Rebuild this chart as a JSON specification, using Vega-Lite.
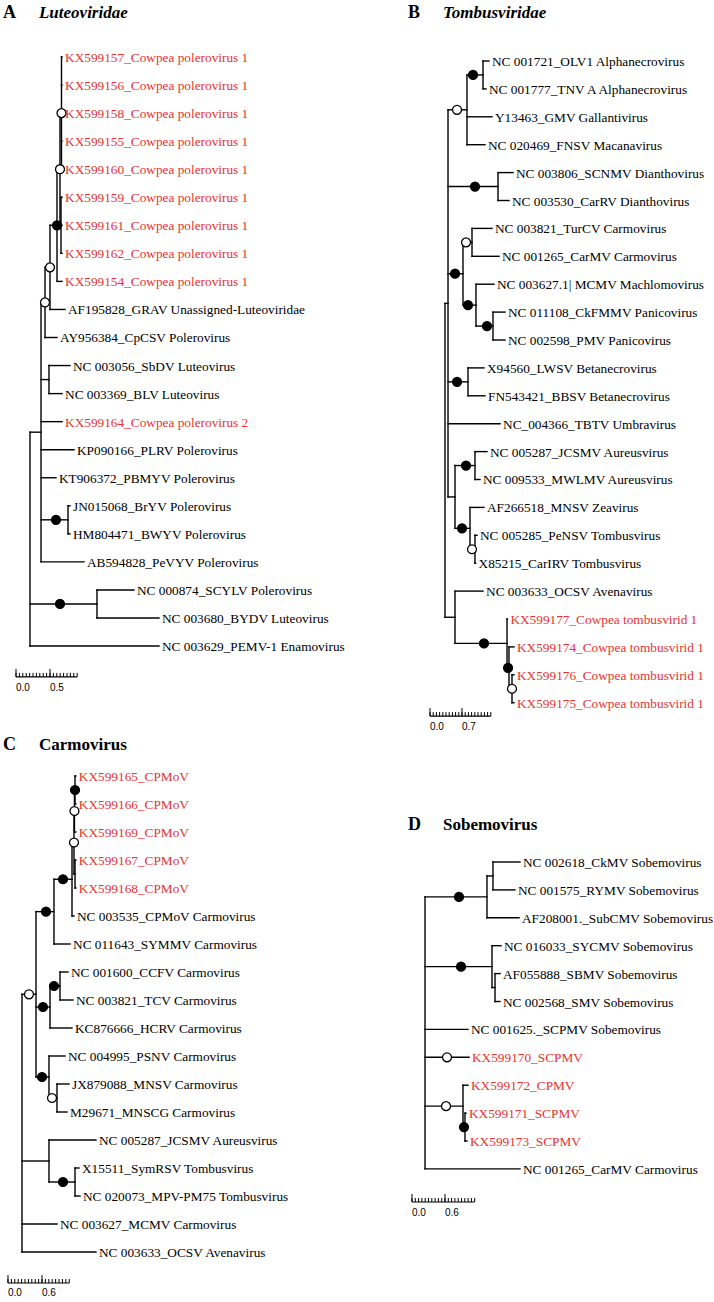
{
"$schema": "https://vega.github.io/schema/vega-lite/v6.json",
"padding": 0,
"bounds": "flush",
"spacing": 0,
"columns": 2,
"config": {"view": {"stroke": null}, "axis": {"disable": true}},
"datasets": {
"A": [
{"id":"r","x":0,"y":17.1875},
{"id":"C1","parent":"r","px":0,"x":0.162,"y":13.375},
{"id":"SB","parent":"r","px":0,"x":0.985,"y":19.5,"bs":"high","dotx":0.441},
{"id":"N3","parent":"C1","px":0.162,"x":0.221,"y":8.75,"bs":"mod","dotx":0.221},
{"id":"SbBLV","parent":"C1","px":0.162,"x":0.279,"y":11.5},
{"id":"JNHM","parent":"C1","px":0.162,"x":0.559,"y":16.5,"bs":"high","dotx":0.382},
{"id":"N2","parent":"N3","px":0.221,"x":0.294,"y":7.5,"bs":"mod","dotx":0.294},
{"id":"N1","parent":"N2","px":0.294,"x":0.397,"y":6,"bs":"high","dotx":0.397},
{"id":"Ga","parent":"N1","px":0.397,"x":0.441,"y":4,"bs":"mod","dotx":0.441},
{"id":"Gb","parent":"Ga","px":0.441,"x":0.463,"y":2,"bs":"mod","dotx":0.463},
{"id":"Gc","parent":"Ga","px":0.441,"x":0.456,"y":6},
{"parent":"Gb","px":0.463,"x":0.471,"y":0,"name":"KX599157_Cowpea polerovirus 1","grp":"new"},
{"parent":"Gb","px":0.463,"x":0.471,"y":1,"name":"KX599156_Cowpea polerovirus 1","grp":"new"},
{"parent":"Gb","px":0.463,"x":0.471,"y":2,"name":"KX599158_Cowpea polerovirus 1","grp":"new"},
{"parent":"Gb","px":0.463,"x":0.471,"y":3,"name":"KX599155_Cowpea polerovirus 1","grp":"new"},
{"parent":"Gb","px":0.463,"x":0.471,"y":4,"name":"KX599160_Cowpea polerovirus 1","grp":"new"},
{"parent":"Gc","px":0.456,"x":0.471,"y":5,"name":"KX599159_Cowpea polerovirus 1","grp":"new"},
{"parent":"Gc","px":0.456,"x":0.471,"y":6,"name":"KX599161_Cowpea polerovirus 1","grp":"new"},
{"parent":"Gc","px":0.456,"x":0.471,"y":7,"name":"KX599162_Cowpea polerovirus 1","grp":"new"},
{"parent":"N1","px":0.397,"x":0.471,"y":8,"name":"KX599154_Cowpea polerovirus 1","grp":"new"},
{"parent":"N2","px":0.294,"x":0.515,"y":9,"name":"AF195828_GRAV Unassigned-Luteoviridae"},
{"parent":"N3","px":0.221,"x":0.397,"y":10,"name":"AY956384_CpCSV Polerovirus"},
{"parent":"SbBLV","px":0.279,"x":0.588,"y":11,"name":"NC 003056_SbDV Luteovirus"},
{"parent":"SbBLV","px":0.279,"x":0.471,"y":12,"name":"NC 003369_BLV Luteovirus"},
{"parent":"C1","px":0.162,"x":0.471,"y":13,"name":"KX599164_Cowpea polerovirus 2","grp":"new"},
{"parent":"C1","px":0.162,"x":0.647,"y":14,"name":"KP090166_PLRV Polerovirus"},
{"parent":"C1","px":0.162,"x":0.382,"y":15,"name":"KT906372_PBMYV Polerovirus"},
{"parent":"JNHM","px":0.559,"x":0.588,"y":16,"name":"JN015068_BrYV Polerovirus"},
{"parent":"JNHM","px":0.559,"x":0.588,"y":17,"name":"HM804471_BWYV Polerovirus"},
{"parent":"C1","px":0.162,"x":0.794,"y":18,"name":"AB594828_PeVYV Polerovirus"},
{"parent":"SB","px":0.985,"x":1.529,"y":19,"name":"NC 000874_SCYLV Polerovirus"},
{"parent":"SB","px":0.985,"x":1.897,"y":20,"name":"NC 003680_BYDV Luteovirus"},
{"parent":"r","px":0,"x":1.897,"y":21,"name":"NC 003629_PEMV-1 Enamovirus"}
],
"B": [
{"id":"r","x":0,"y":14.3125},
{"id":"X","parent":"r","px":0,"x":0.066,"y":8.6875},
{"id":"Q","parent":"r","px":0,"x":0.219,"y":19.9375},
{"id":"AL","parent":"X","px":0.066,"x":0.481,"y":1.75,"bs":"mod","dotx":0.263},
{"id":"DI","parent":"X","px":0.066,"x":1.16,"y":4.5,"bs":"high","dotx":0.656},
{"id":"CG","parent":"X","px":0.066,"x":0.394,"y":7.625,"bs":"high","dotx":0.219},
{"id":"BE","parent":"X","px":0.066,"x":0.503,"y":11.5,"bs":"high","dotx":0.263},
{"id":"Y","parent":"X","px":0.066,"x":0.219,"y":15.625},
{"id":"OT","parent":"AL","px":0.481,"x":0.832,"y":0.5,"bs":"high","dotx":0.613},
{"id":"T","parent":"CG","px":0.394,"x":0.591,"y":6.5,"bs":"mod","dotx":0.46},
{"id":"M","parent":"CG","px":0.394,"x":0.678,"y":8.75,"bs":"high","dotx":0.503},
{"id":"P","parent":"M","px":0.678,"x":1.05,"y":9.5,"bs":"high","dotx":0.919},
{"id":"AU","parent":"Y","px":0.219,"x":0.656,"y":14.5,"bs":"high","dotx":0.46},
{"id":"Z","parent":"Y","px":0.219,"x":0.547,"y":16.75,"bs":"high","dotx":0.372},
{"id":"PC","parent":"Z","px":0.547,"x":0.656,"y":17.5,"bs":"mod","dotx":0.591},
{"id":"K","parent":"Q","px":0.219,"x":1.357,"y":20.875,"bs":"high","dotx":0.853},
{"id":"K2","parent":"K","px":1.357,"x":1.4,"y":21.75,"bs":"high","dotx":1.379},
{"id":"K3","parent":"K2","px":1.4,"x":1.466,"y":22.5,"bs":"mod","dotx":1.466},
{"parent":"OT","px":0.832,"x":0.963,"y":0,"name":"NC 001721_OLV1 Alphanecrovirus"},
{"parent":"OT","px":0.832,"x":0.897,"y":1,"name":"NC 001777_TNV A Alphanecrovirus"},
{"parent":"AL","px":0.481,"x":1.028,"y":2,"name":"Y13463_GMV Gallantivirus"},
{"parent":"AL","px":0.481,"x":0.875,"y":3,"name":"NC 020469_FNSV Macanavirus"},
{"parent":"DI","px":1.16,"x":1.488,"y":4,"name":"NC 003806_SCNMV Dianthovirus"},
{"parent":"DI","px":1.16,"x":1.4,"y":5,"name":"NC 003530_CarRV Dianthovirus"},
{"parent":"T","px":0.591,"x":1.028,"y":6,"name":"NC 003821_TurCV Carmovirus"},
{"parent":"T","px":0.591,"x":1.182,"y":7,"name":"NC 001265_CarMV Carmovirus"},
{"parent":"M","px":0.678,"x":1.072,"y":8,"name":"NC 003627.1| MCMV Machlomovirus"},
{"parent":"P","px":1.05,"x":1.313,"y":9,"name":"NC 011108_CkFMMV Panicovirus"},
{"parent":"P","px":1.05,"x":1.313,"y":10,"name":"NC 002598_PMV Panicovirus"},
{"parent":"BE","px":0.503,"x":0.853,"y":11,"name":"X94560_LWSV Betanecrovirus"},
{"parent":"BE","px":0.503,"x":0.875,"y":12,"name":"FN543421_BBSV Betanecrovirus"},
{"parent":"X","px":0.066,"x":1.204,"y":13,"name":"NC_004366_TBTV Umbravirus"},
{"parent":"AU","px":0.656,"x":0.919,"y":14,"name":"NC 005287_JCSMV Aureusvirus"},
{"parent":"AU","px":0.656,"x":0.766,"y":15,"name":"NC 009533_MWLMV Aureusvirus"},
{"parent":"Z","px":0.547,"x":0.853,"y":16,"name":"AF266518_MNSV Zeavirus"},
{"parent":"PC","px":0.656,"x":0.7,"y":17,"name":"NC 005285_PeNSV Tombusvirus"},
{"parent":"PC","px":0.656,"x":0.67,"y":18,"name":"X85215_CarIRV Tombusvirus"},
{"parent":"Q","px":0.219,"x":0.832,"y":19,"name":"NC 003633_OCSV Avenavirus"},
{"parent":"K","px":1.357,"x":1.365,"y":20,"name":"KX599177_Cowpea tombusvirid 1","grp":"new"},
{"parent":"K2","px":1.4,"x":1.51,"y":21,"name":"KX599174_Cowpea tombusvirid 1","grp":"new"},
{"parent":"K3","px":1.466,"x":1.51,"y":22,"name":"KX599176_Cowpea tombusvirid 1","grp":"new"},
{"parent":"K3","px":1.466,"x":1.51,"y":23,"name":"KX599175_Cowpea tombusvirid 1","grp":"new"}
],
"C": [
{"id":"r","x":0,"y":12.398},
{"id":"g","parent":"r","px":0,"x":0.247,"y":7.797,"bs":"mod","dotx":0.123},
{"id":"l","parent":"r","px":0,"x":0.476,"y":13.75},
{"id":"f","parent":"g","px":0.247,"x":0.564,"y":4.844,"bs":"high","dotx":0.423},
{"id":"k","parent":"g","px":0.247,"x":0.494,"y":8.25,"bs":"high","dotx":0.37},
{"id":"h","parent":"g","px":0.247,"x":0.476,"y":10.75,"bs":"high","dotx":0.353},
{"id":"e","parent":"f","px":0.564,"x":0.882,"y":3.6875,"bs":"high","dotx":0.723},
{"id":"c","parent":"e","px":0.882,"x":0.917,"y":2.375,"bs":"mod","dotx":0.917},
{"id":"b","parent":"c","px":0.917,"x":0.925,"y":1.25,"bs":"mod","dotx":0.925},
{"id":"d","parent":"c","px":0.917,"x":0.935,"y":3.5},
{"id":"a","parent":"b","px":0.925,"x":0.935,"y":0.5,"bs":"high","dotx":0.935},
{"id":"j","parent":"k","px":0.494,"x":0.67,"y":7.5,"bs":"high","dotx":0.564},
{"id":"i","parent":"h","px":0.476,"x":0.617,"y":11.5,"bs":"mod","dotx":0.529},
{"id":"m","parent":"l","px":0.476,"x":0.935,"y":14.5,"bs":"high","dotx":0.723},
{"parent":"a","px":0.935,"x":0.95,"y":0,"name":"KX599165_CPMoV","grp":"new"},
{"parent":"a","px":0.935,"x":0.95,"y":1,"name":"KX599166_CPMoV","grp":"new"},
{"parent":"b","px":0.925,"x":0.95,"y":2,"name":"KX599169_CPMoV","grp":"new"},
{"parent":"d","px":0.935,"x":0.95,"y":3,"name":"KX599167_CPMoV","grp":"new"},
{"parent":"d","px":0.935,"x":0.95,"y":4,"name":"KX599168_CPMoV","grp":"new"},
{"parent":"e","px":0.882,"x":0.917,"y":5,"name":"NC 003535_CPMoV Carmovirus"},
{"parent":"f","px":0.564,"x":0.847,"y":6,"name":"NC 011643_SYMMV Carmovirus"},
{"parent":"j","px":0.67,"x":0.811,"y":7,"name":"NC 001600_CCFV Carmovirus"},
{"parent":"j","px":0.67,"x":0.899,"y":8,"name":"NC 003821_TCV Carmovirus"},
{"parent":"k","px":0.494,"x":0.882,"y":9,"name":"KC876666_HCRV Carmovirus"},
{"parent":"h","px":0.476,"x":0.758,"y":10,"name":"NC 004995_PSNV Carmovirus"},
{"parent":"i","px":0.617,"x":0.829,"y":11,"name":"JX879088_MNSV Carmovirus"},
{"parent":"i","px":0.617,"x":0.794,"y":12,"name":"M29671_MNSCG Carmovirus"},
{"parent":"l","px":0.476,"x":1.305,"y":13,"name":"NC 005287_JCSMV Aureusvirus"},
{"parent":"m","px":0.935,"x":1.005,"y":14,"name":"X15511_SymRSV Tombusvirus"},
{"parent":"m","px":0.935,"x":1.023,"y":15,"name":"NC 020073_MPV-PM75 Tombusvirus"},
{"parent":"r","px":0,"x":0.617,"y":16,"name":"NC 003627_MCMV Carmovirus"},
{"parent":"r","px":0,"x":1.305,"y":17,"name":"NC 003633_OCSV Avenavirus"}
],
"D": [
{"id":"r","x":0,"y":6.125},
{"id":"s1","parent":"r","px":0,"x":1.127,"y":1.25,"bs":"high","dotx":0.618},
{"id":"s2","parent":"r","px":0,"x":1.218,"y":3.75,"bs":"high","dotx":0.655},
{"id":"s3","parent":"r","px":0,"x":0.691,"y":8.75,"bs":"mod","dotx":0.382},
{"id":"s1a","parent":"s1","px":1.127,"x":1.236,"y":0.5},
{"id":"s2a","parent":"s2","px":1.218,"x":1.273,"y":4.5},
{"id":"s3a","parent":"s3","px":0.691,"x":0.727,"y":9.5,"bs":"high","dotx":0.709},
{"parent":"s1a","px":1.236,"x":1.727,"y":0,"name":"NC 002618_CkMV Sobemovirus"},
{"parent":"s1a","px":1.236,"x":1.636,"y":1,"name":"NC 001575_RYMV Sobemovirus"},
{"parent":"s1","px":1.127,"x":1.709,"y":2,"name":"AF208001._SubCMV Sobemovirus"},
{"parent":"s2","px":1.218,"x":1.382,"y":3,"name":"NC 016033_SYCMV Sobemovirus"},
{"parent":"s2a","px":1.273,"x":1.364,"y":4,"name":"AF055888_SBMV Sobemovirus"},
{"parent":"s2a","px":1.273,"x":1.364,"y":5,"name":"NC 002568_SMV Sobemovirus"},
{"parent":"r","px":0,"x":0.782,"y":6,"name":"NC 001625._SCPMV Sobemovirus"},
{"parent":"r","px":0,"x":0.8,"y":7,"name":"KX599170_SCPMV","grp":"new","bs":"mod","dotx":0.4},
{"parent":"s3","px":0.691,"x":0.782,"y":8,"name":"KX599172_CPMV","grp":"new"},
{"parent":"s3a","px":0.727,"x":0.745,"y":9,"name":"KX599171_SCPMV","grp":"new"},
{"parent":"s3a","px":0.727,"x":0.764,"y":10,"name":"KX599173_SCPMV","grp":"new"},
{"parent":"r","px":0,"x":1.727,"y":11,"name":"NC 001265_CarMV Carmovirus"}
],
"sbA": [{"v":0,"lab":"0.0"},{"v":0.05},{"v":0.1},{"v":0.15},{"v":0.2},{"v":0.25},{"v":0.3},{"v":0.35},{"v":0.4},{"v":0.45},{"v":0.5,"lab":"0.5"},{"v":0.55},{"v":0.6},{"v":0.65},{"v":0.7},{"v":0.75},{"v":0.8},{"v":0.85},{"v":0.9}],
"sbB": [{"v":0,"lab":"0.0"},{"v":0.07},{"v":0.14},{"v":0.21},{"v":0.28},{"v":0.35},{"v":0.42},{"v":0.49},{"v":0.56},{"v":0.63},{"v":0.7,"lab":"0.7"},{"v":0.77},{"v":0.84},{"v":0.91},{"v":0.98},{"v":1.05},{"v":1.12},{"v":1.19},{"v":1.26},{"v":1.33}],
"sbC": [{"v":0,"lab":"0.0"},{"v":0.06},{"v":0.12},{"v":0.18},{"v":0.24},{"v":0.3},{"v":0.36},{"v":0.42},{"v":0.48},{"v":0.54},{"v":0.6,"lab":"0.6"},{"v":0.66},{"v":0.72},{"v":0.78},{"v":0.84},{"v":0.9},{"v":0.96},{"v":1.02},{"v":1.08}],
"sbD": [{"v":0,"lab":"0.0"},{"v":0.06},{"v":0.12},{"v":0.18},{"v":0.24},{"v":0.3},{"v":0.36},{"v":0.42},{"v":0.48},{"v":0.54},{"v":0.6,"lab":"0.6"},{"v":0.66},{"v":0.72},{"v":0.78},{"v":0.84},{"v":0.9},{"v":0.96},{"v":1.02},{"v":1.08},{"v":1.14}]
},
"concat": [
{"width": 357, "height": 720, "data": {"name": "A"}, "layer": [
{"transform":[{"filter":"datum.px != null"}],"mark":{"type":"rule","color":"#000","strokeWidth":1.4,"strokeCap":"square"},"encoding":{"x":{"field":"px","type":"quantitative","scale":{"domain":[-0.4412,4.8088],"nice":false,"zero":false}},"x2":{"field":"x"},"y":{"field":"y","type":"quantitative","scale":{"domain":[-2.0321,23.6364],"nice":false,"zero":false,"reverse":true}}}},
{"transform":[{"filter":"datum.px != null"},{"aggregate":[{"op":"min","field":"y","as":"y1"},{"op":"max","field":"y","as":"y2"}],"groupby":["parent","px"]}],"mark":{"type":"rule","color":"#000","strokeWidth":1.4,"strokeCap":"square"},"encoding":{"x":{"field":"px","type":"quantitative"},"y":{"field":"y1","type":"quantitative"},"y2":{"field":"y2"}}},
{"transform":[{"filter":"datum.bs != null"}],"mark":{"type":"point","shape":"circle","filled":true,"size":80,"stroke":"#000","strokeWidth":1.3,"opacity":1},"encoding":{"x":{"field":"dotx","type":"quantitative"},"y":{"field":"y","type":"quantitative"},"fill":{"condition":{"test":"datum.bs == 'high'","value":"#000"},"value":"#fff"}}},
{"transform":[{"filter":"datum.name != null"}],"mark":{"type":"text","align":"left","baseline":"middle","dx":3,"dy":1,"font":"Liberation Serif","fontSize":13.3},"encoding":{"x":{"field":"x","type":"quantitative"},"y":{"field":"y","type":"quantitative"},"text":{"field":"name"},"color":{"condition":{"test":"datum.grp == 'new'","value":"#e8322f"},"value":"#000"}}},
{"data":{"name":"sbA"},"transform":[{"aggregate":[{"op":"min","field":"v","as":"v0"},{"op":"max","field":"v","as":"v1"}]}],"mark":{"type":"rule","color":"#000","strokeWidth":1.2,"xOffset":-14,"x2Offset":-14},"encoding":{"x":{"field":"v0","type":"quantitative"},"x2":{"field":"v1"},"y":{"datum":22.1,"type":"quantitative"}}},
{"data":{"name":"sbA"},"mark":{"type":"rule","color":"#000","strokeWidth":1,"xOffset":-14,"y2Offset":-4},"encoding":{"x":{"field":"v","type":"quantitative"},"y":{"datum":22.1,"type":"quantitative"},"y2":{"datum":22.1}}},
{"data":{"name":"sbA"},"transform":[{"filter":"datum.lab != null"}],"mark":{"type":"rule","color":"#000","strokeWidth":1,"xOffset":-14,"y2Offset":-8},"encoding":{"x":{"field":"v","type":"quantitative"},"y":{"datum":22.1,"type":"quantitative"},"y2":{"datum":22.1}}},
{"data":{"name":"sbA"},"transform":[{"filter":"datum.lab != null"}],"mark":{"type":"text","align":"left","baseline":"middle","xOffset":-14,"dy":11,"font":"Liberation Sans","fontSize":10,"color":"#000"},"encoding":{"x":{"field":"v","type":"quantitative"},"y":{"datum":22.1,"type":"quantitative"},"text":{"field":"lab"}}},
{"data":{"values":[{"t":"A"}]},"mark":{"type":"text","align":"left","baseline":"alphabetic","font":"Liberation Serif","fontSize":18,"fontWeight":"bold","color":"#000"},"encoding":{"x":{"datum":-0.397,"type":"quantitative"},"y":{"datum":-1.39,"type":"quantitative"},"text":{"field":"t"}}},
{"data":{"values":[{"t":"Luteoviridae"}]},"mark":{"type":"text","align":"left","baseline":"alphabetic","font":"Liberation Serif","fontSize":17,"fontWeight":"bold","fontStyle":"italic","color":"#000"},"encoding":{"x":{"datum":0.132,"type":"quantitative"},"y":{"datum":-1.39,"type":"quantitative"},"text":{"field":"t"}}}
]},
{"width": 357, "height": 720, "data": {"name": "B"}, "layer": [
{"transform":[{"filter":"datum.px != null"}],"mark":{"type":"rule","color":"#000","strokeWidth":1.4,"strokeCap":"square"},"encoding":{"x":{"field":"px","type":"quantitative","scale":{"domain":[-1.9256,5.8862],"nice":false,"zero":false}},"x2":{"field":"x"},"y":{"field":"y","type":"quantitative","scale":{"domain":[-2.1864,23.6201],"nice":false,"zero":false,"reverse":true}}}},
{"transform":[{"filter":"datum.px != null"},{"aggregate":[{"op":"min","field":"y","as":"y1"},{"op":"max","field":"y","as":"y2"}],"groupby":["parent","px"]}],"mark":{"type":"rule","color":"#000","strokeWidth":1.4,"strokeCap":"square"},"encoding":{"x":{"field":"px","type":"quantitative"},"y":{"field":"y1","type":"quantitative"},"y2":{"field":"y2"}}},
{"transform":[{"filter":"datum.bs != null"}],"mark":{"type":"point","shape":"circle","filled":true,"size":80,"stroke":"#000","strokeWidth":1.3,"opacity":1},"encoding":{"x":{"field":"dotx","type":"quantitative"},"y":{"field":"y","type":"quantitative"},"fill":{"condition":{"test":"datum.bs == 'high'","value":"#000"},"value":"#fff"}}},
{"transform":[{"filter":"datum.name != null"}],"mark":{"type":"text","align":"left","baseline":"middle","dx":3,"dy":1,"font":"Liberation Serif","fontSize":13.3},"encoding":{"x":{"field":"x","type":"quantitative"},"y":{"field":"y","type":"quantitative"},"text":{"field":"name"},"color":{"condition":{"test":"datum.grp == 'new'","value":"#e8322f"},"value":"#000"}}},
{"data":{"name":"sbB"},"transform":[{"aggregate":[{"op":"min","field":"v","as":"v0"},{"op":"max","field":"v","as":"v1"}]}],"mark":{"type":"rule","color":"#000","strokeWidth":1.2,"xOffset":-15,"x2Offset":-15},"encoding":{"x":{"field":"v0","type":"quantitative"},"x2":{"field":"v1"},"y":{"datum":23.48,"type":"quantitative"}}},
{"data":{"name":"sbB"},"mark":{"type":"rule","color":"#000","strokeWidth":1,"xOffset":-15,"y2Offset":-4},"encoding":{"x":{"field":"v","type":"quantitative"},"y":{"datum":23.48,"type":"quantitative"},"y2":{"datum":23.48}}},
{"data":{"name":"sbB"},"transform":[{"filter":"datum.lab != null"}],"mark":{"type":"rule","color":"#000","strokeWidth":1,"xOffset":-15,"y2Offset":-8},"encoding":{"x":{"field":"v","type":"quantitative"},"y":{"datum":23.48,"type":"quantitative"},"y2":{"datum":23.48}}},
{"data":{"name":"sbB"},"transform":[{"filter":"datum.lab != null"}],"mark":{"type":"text","align":"left","baseline":"middle","xOffset":-15,"dy":11,"font":"Liberation Sans","fontSize":10,"color":"#000"},"encoding":{"x":{"field":"v","type":"quantitative"},"y":{"datum":23.48,"type":"quantitative"},"text":{"field":"lab"}}},
{"data":{"values":[{"t":"B"}]},"mark":{"type":"text","align":"left","baseline":"alphabetic","font":"Liberation Serif","fontSize":18,"fontWeight":"bold","color":"#000"},"encoding":{"x":{"datum":-0.81,"type":"quantitative"},"y":{"datum":-1.541,"type":"quantitative"},"text":{"field":"t"}}},
{"data":{"values":[{"t":"Tombusviridae"}]},"mark":{"type":"text","align":"left","baseline":"alphabetic","font":"Liberation Serif","fontSize":17,"fontWeight":"bold","fontStyle":"italic","color":"#000"},"encoding":{"x":{"datum":-0.044,"type":"quantitative"},"y":{"datum":-1.541,"type":"quantitative"},"text":{"field":"t"}}}
]},
{"width": 357, "height": 582, "data": {"name": "C"}, "layer": [
{"transform":[{"filter":"datum.px != null"}],"mark":{"type":"rule","color":"#000","strokeWidth":1.4,"strokeCap":"square"},"encoding":{"x":{"field":"px","type":"quantitative","scale":{"domain":[-0.388,5.9083],"nice":false,"zero":false}},"x2":{"field":"x"},"y":{"field":"y","type":"quantitative","scale":{"domain":[-2,18.7857],"nice":false,"zero":false,"reverse":true}}}},
{"transform":[{"filter":"datum.px != null"},{"aggregate":[{"op":"min","field":"y","as":"y1"},{"op":"max","field":"y","as":"y2"}],"groupby":["parent","px"]}],"mark":{"type":"rule","color":"#000","strokeWidth":1.4,"strokeCap":"square"},"encoding":{"x":{"field":"px","type":"quantitative"},"y":{"field":"y1","type":"quantitative"},"y2":{"field":"y2"}}},
{"transform":[{"filter":"datum.bs != null"}],"mark":{"type":"point","shape":"circle","filled":true,"size":80,"stroke":"#000","strokeWidth":1.3,"opacity":1},"encoding":{"x":{"field":"dotx","type":"quantitative"},"y":{"field":"y","type":"quantitative"},"fill":{"condition":{"test":"datum.bs == 'high'","value":"#000"},"value":"#fff"}}},
{"transform":[{"filter":"datum.name != null"}],"mark":{"type":"text","align":"left","baseline":"middle","dx":3,"dy":1,"font":"Liberation Serif","fontSize":13.3},"encoding":{"x":{"field":"x","type":"quantitative"},"y":{"field":"y","type":"quantitative"},"text":{"field":"name"},"color":{"condition":{"test":"datum.grp == 'new'","value":"#e8322f"},"value":"#000"}}},
{"data":{"name":"sbC"},"transform":[{"aggregate":[{"op":"min","field":"v","as":"v0"},{"op":"max","field":"v","as":"v1"}]}],"mark":{"type":"rule","color":"#000","strokeWidth":1.2,"xOffset":-14,"x2Offset":-14},"encoding":{"x":{"field":"v0","type":"quantitative"},"x2":{"field":"v1"},"y":{"datum":18.107,"type":"quantitative"}}},
{"data":{"name":"sbC"},"mark":{"type":"rule","color":"#000","strokeWidth":1,"xOffset":-14,"y2Offset":-4},"encoding":{"x":{"field":"v","type":"quantitative"},"y":{"datum":18.107,"type":"quantitative"},"y2":{"datum":18.107}}},
{"data":{"name":"sbC"},"transform":[{"filter":"datum.lab != null"}],"mark":{"type":"rule","color":"#000","strokeWidth":1,"xOffset":-14,"y2Offset":-8},"encoding":{"x":{"field":"v","type":"quantitative"},"y":{"datum":18.107,"type":"quantitative"},"y2":{"datum":18.107}}},
{"data":{"name":"sbC"},"transform":[{"filter":"datum.lab != null"}],"mark":{"type":"text","align":"left","baseline":"middle","xOffset":-14,"dy":10,"font":"Liberation Sans","fontSize":10,"color":"#000"},"encoding":{"x":{"field":"v","type":"quantitative"},"y":{"datum":18.107,"type":"quantitative"},"text":{"field":"lab"}}},
{"data":{"values":[{"t":"C"}]},"mark":{"type":"text","align":"left","baseline":"alphabetic","font":"Liberation Serif","fontSize":18,"fontWeight":"bold","color":"#000"},"encoding":{"x":{"datum":-0.335,"type":"quantitative"},"y":{"datum":-0.929,"type":"quantitative"},"text":{"field":"t"}}},
{"data":{"values":[{"t":"Carmovirus"}]},"mark":{"type":"text","align":"left","baseline":"alphabetic","font":"Liberation Serif","fontSize":17,"fontWeight":"bold","color":"#000"},"encoding":{"x":{"datum":0.3,"type":"quantitative"},"y":{"datum":-0.929,"type":"quantitative"},"text":{"field":"t"}}}
]},
{"width": 357, "height": 582, "data": {"name": "D"}, "layer": [
{"transform":[{"filter":"datum.px != null"}],"mark":{"type":"rule","color":"#000","strokeWidth":1.4,"strokeCap":"square"},"encoding":{"x":{"field":"px","type":"quantitative","scale":{"domain":[-1.2364,5.2545],"nice":false,"zero":false}},"x2":{"field":"x"},"y":{"field":"y","type":"quantitative","scale":{"domain":[-5.0896,15.7706],"nice":false,"zero":false,"reverse":true}}}},
{"transform":[{"filter":"datum.px != null"},{"aggregate":[{"op":"min","field":"y","as":"y1"},{"op":"max","field":"y","as":"y2"}],"groupby":["parent","px"]}],"mark":{"type":"rule","color":"#000","strokeWidth":1.4,"strokeCap":"square"},"encoding":{"x":{"field":"px","type":"quantitative"},"y":{"field":"y1","type":"quantitative"},"y2":{"field":"y2"}}},
{"transform":[{"filter":"datum.bs != null"}],"mark":{"type":"point","shape":"circle","filled":true,"size":80,"stroke":"#000","strokeWidth":1.3,"opacity":1},"encoding":{"x":{"field":"dotx","type":"quantitative"},"y":{"field":"y","type":"quantitative"},"fill":{"condition":{"test":"datum.bs == 'high'","value":"#000"},"value":"#fff"}}},
{"transform":[{"filter":"datum.name != null"}],"mark":{"type":"text","align":"left","baseline":"middle","dx":3,"dy":1,"font":"Liberation Serif","fontSize":13.3},"encoding":{"x":{"field":"x","type":"quantitative"},"y":{"field":"y","type":"quantitative"},"text":{"field":"name"},"color":{"condition":{"test":"datum.grp == 'new'","value":"#e8322f"},"value":"#000"}}},
{"data":{"name":"sbD"},"transform":[{"aggregate":[{"op":"min","field":"v","as":"v0"},{"op":"max","field":"v","as":"v1"}]}],"mark":{"type":"rule","color":"#000","strokeWidth":1.2,"xOffset":-13,"x2Offset":-13},"encoding":{"x":{"field":"v0","type":"quantitative"},"x2":{"field":"v1"},"y":{"datum":12.186,"type":"quantitative"}}},
{"data":{"name":"sbD"},"mark":{"type":"rule","color":"#000","strokeWidth":1,"xOffset":-13,"y2Offset":-4},"encoding":{"x":{"field":"v","type":"quantitative"},"y":{"datum":12.186,"type":"quantitative"},"y2":{"datum":12.186}}},
{"data":{"name":"sbD"},"transform":[{"filter":"datum.lab != null"}],"mark":{"type":"rule","color":"#000","strokeWidth":1,"xOffset":-13,"y2Offset":-8},"encoding":{"x":{"field":"v","type":"quantitative"},"y":{"datum":12.186,"type":"quantitative"},"y2":{"datum":12.186}}},
{"data":{"name":"sbD"},"transform":[{"filter":"datum.lab != null"}],"mark":{"type":"text","align":"left","baseline":"middle","xOffset":-13,"dy":11,"font":"Liberation Sans","fontSize":10,"color":"#000"},"encoding":{"x":{"field":"v","type":"quantitative"},"y":{"datum":12.186,"type":"quantitative"},"text":{"field":"lab"}}},
{"data":{"values":[{"t":"D"}]},"mark":{"type":"text","align":"left","baseline":"alphabetic","font":"Liberation Serif","fontSize":18,"fontWeight":"bold","color":"#000"},"encoding":{"x":{"datum":-0.309,"type":"quantitative"},"y":{"datum":-1.147,"type":"quantitative"},"text":{"field":"t"}}},
{"data":{"values":[{"t":"Sobemovirus"}]},"mark":{"type":"text","align":"left","baseline":"alphabetic","font":"Liberation Serif","fontSize":17,"fontWeight":"bold","color":"#000"},"encoding":{"x":{"datum":0.327,"type":"quantitative"},"y":{"datum":-1.147,"type":"quantitative"},"text":{"field":"t"}}}
]}
]
}
